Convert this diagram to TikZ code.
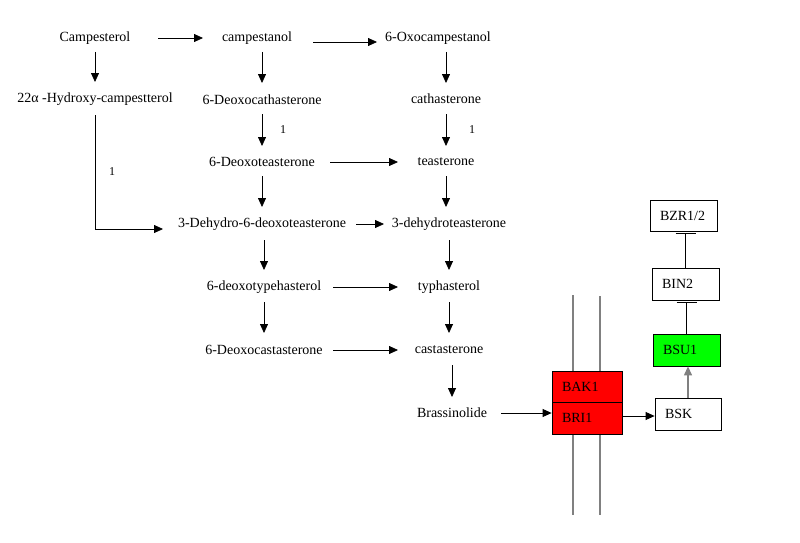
\documentclass[tikz,border=0pt]{standalone}
\usepackage{fontspec}
\setmainfont{Liberation Serif}
\usetikzlibrary{arrows.meta}
\begin{document}
\begin{tikzpicture}[x=1pt,y=-1pt,
  every node/.style={font=\fontsize{14}{16}\selectfont},
  cmp/.style={inner sep=2pt},
  arr/.style={-{Triangle[length=9pt,width=8pt]}, line width=0.8pt},
  garr/.style={arr, draw={rgb,255:red,128;green,128;blue,128}, line width=1.2pt},
  inh/.style={-{Bar[width=20pt,line width=0.8pt]}, line width=0.8pt, shorten >=2pt},
  membrane/.style={draw={rgb,255:red,128;green,128;blue,128}, line width=1.2pt},
  gbox/.style={draw, line width=0.8pt, minimum height=32pt, inner xsep=10pt, inner ysep=0pt, align=left},
  num/.style={font=\fontsize{12}{14}\selectfont}
]
\useasboundingbox (0,0) rectangle (800,543);
% compounds
\node[cmp] (camp) at (95,38) {Campesterol};
\node[cmp] (campn) at (257,38) {campestanol};
\node[cmp] (oxo) at (438,38) {6-Oxocampestanol};
\node[cmp] (hyd) at (95,99) {22α -Hydroxy-campestterol};
\node[cmp] (dcath) at (262,100) {6-Deoxocathasterone};
\node[cmp] (cath) at (446,99) {cathasterone};
\node[cmp] (dtea) at (262,162) {6-Deoxoteasterone};
\node[cmp] (tea) at (446,162) {teasterone};
\node[cmp] (dehyd) at (262,224) {3-Dehydro-6-deoxoteasterone};
\node[cmp] (dhtea) at (449,224) {3-dehydroteasterone};
\node[cmp] (dtyp) at (264,287) {6-deoxotypehasterol};
\node[cmp] (typh) at (449,287) {typhasterol};
\node[cmp] (dcast) at (264,350) {6-Deoxocastasterone};
\node[cmp] (cast) at (449,350) {castasterone};
\node[cmp] (bl) at (452,413) {Brassinolide};
% labels
\node[num] (n1) at (283,130) {1};
\node[num] (n2) at (472,130) {1};
\node[num] (n3) at (112,172) {1};
% membrane
\draw[membrane] (573,295) -- (573,515);
\draw[membrane] (600,296) -- (600,515);
% receptor boxes
\node[gbox, fill=red, minimum height=31pt, text width=50pt] (bak1) at (587,386.5) {BAK1};
\node[gbox, fill=red, text width=50pt] (bri1) at (587,418) {BRI1};
\node[gbox, fill=white, text width=46pt] (bsk) at (688,414) {BSK};
\node[gbox, fill={rgb,255:red,0;green,255;blue,0}, text width=47pt] (bsu1) at (686.5,350) {BSU1};
\node[gbox, fill=white, text width=47pt] (bin2) at (685.5,284) {BIN2};
\node[gbox, fill=white, minimum height=31pt, text width=47pt] (bzr) at (683.5,215.5) {BZR1/2};
% arrows
\draw[arr, shorten <=63pt, shorten >=54pt] (camp.center) -- (campn.center);
\draw[arr, shorten <=56pt, shorten >=61pt] ([yshift=-4pt]campn.center) -- ([yshift=-4pt]oxo.center);
\draw[arr, shorten <=14pt, shorten >=17pt] (camp.center) -- (hyd.center);
\draw[arr, shorten <=14pt, shorten >=17pt] (dcath |- campn) -- (dcath.center);
\draw[arr, shorten <=14pt, shorten >=16pt] (cath |- oxo) -- (cath.center);
\draw[arr, shorten <=14pt, shorten >=16pt] (dcath.center) -- (dtea.center);
\draw[arr, shorten <=15pt, shorten >=16pt] (cath.center) -- (tea.center);
\draw[arr, shorten >=99pt] ([yshift=-16pt]hyd.center) |- ([yshift=-5pt]dehyd.center);
\draw[arr, shorten <=68pt, shorten >=48pt] (dtea.center) -- (tea.center);
\draw[arr, shorten <=14pt, shorten >=17pt] (dtea.center) -- (dehyd.center);
\draw[arr, shorten <=14pt, shorten >=17pt] (tea.center) -- (tea |- dhtea);
\draw[arr, shorten <=94pt, shorten >=65pt] (dehyd.center) -- (dhtea.center);
\draw[arr, shorten <=16pt, shorten >=17pt] (dtyp |- dehyd) -- (dtyp.center);
\draw[arr, shorten <=16pt, shorten >=17pt] (dhtea.center) -- (typh.center);
\draw[arr, shorten <=69pt, shorten >=51pt] (dtyp.center) -- (typh.center);
\draw[arr, shorten <=15pt, shorten >=17pt] (dtyp.center) -- (dcast.center);
\draw[arr, shorten <=15pt, shorten >=17pt] (typh.center) -- (cast.center);
\draw[arr, shorten <=69pt, shorten >=51pt] (dcast.center) -- (cast.center);
\draw[arr, shorten <=15pt, shorten >=16pt] (bl |- cast) -- (bl.center);
\draw[arr, shorten <=49pt] (bl.center) -- (bl.center -| bri1.west);
\draw[arr] ([yshift=2pt]bri1.east) -- ([yshift=2pt]bri1.east -| bsk.west);
\draw[garr] (bsk.north) -- (bsk.north |- bsu1.south);
\draw[inh] (bsu1.north) -- (bsu1.north |- bin2.south);
\draw[inh] (bin2.north) -- (bin2.north |- bzr.south);
\end{tikzpicture}
\end{document}
